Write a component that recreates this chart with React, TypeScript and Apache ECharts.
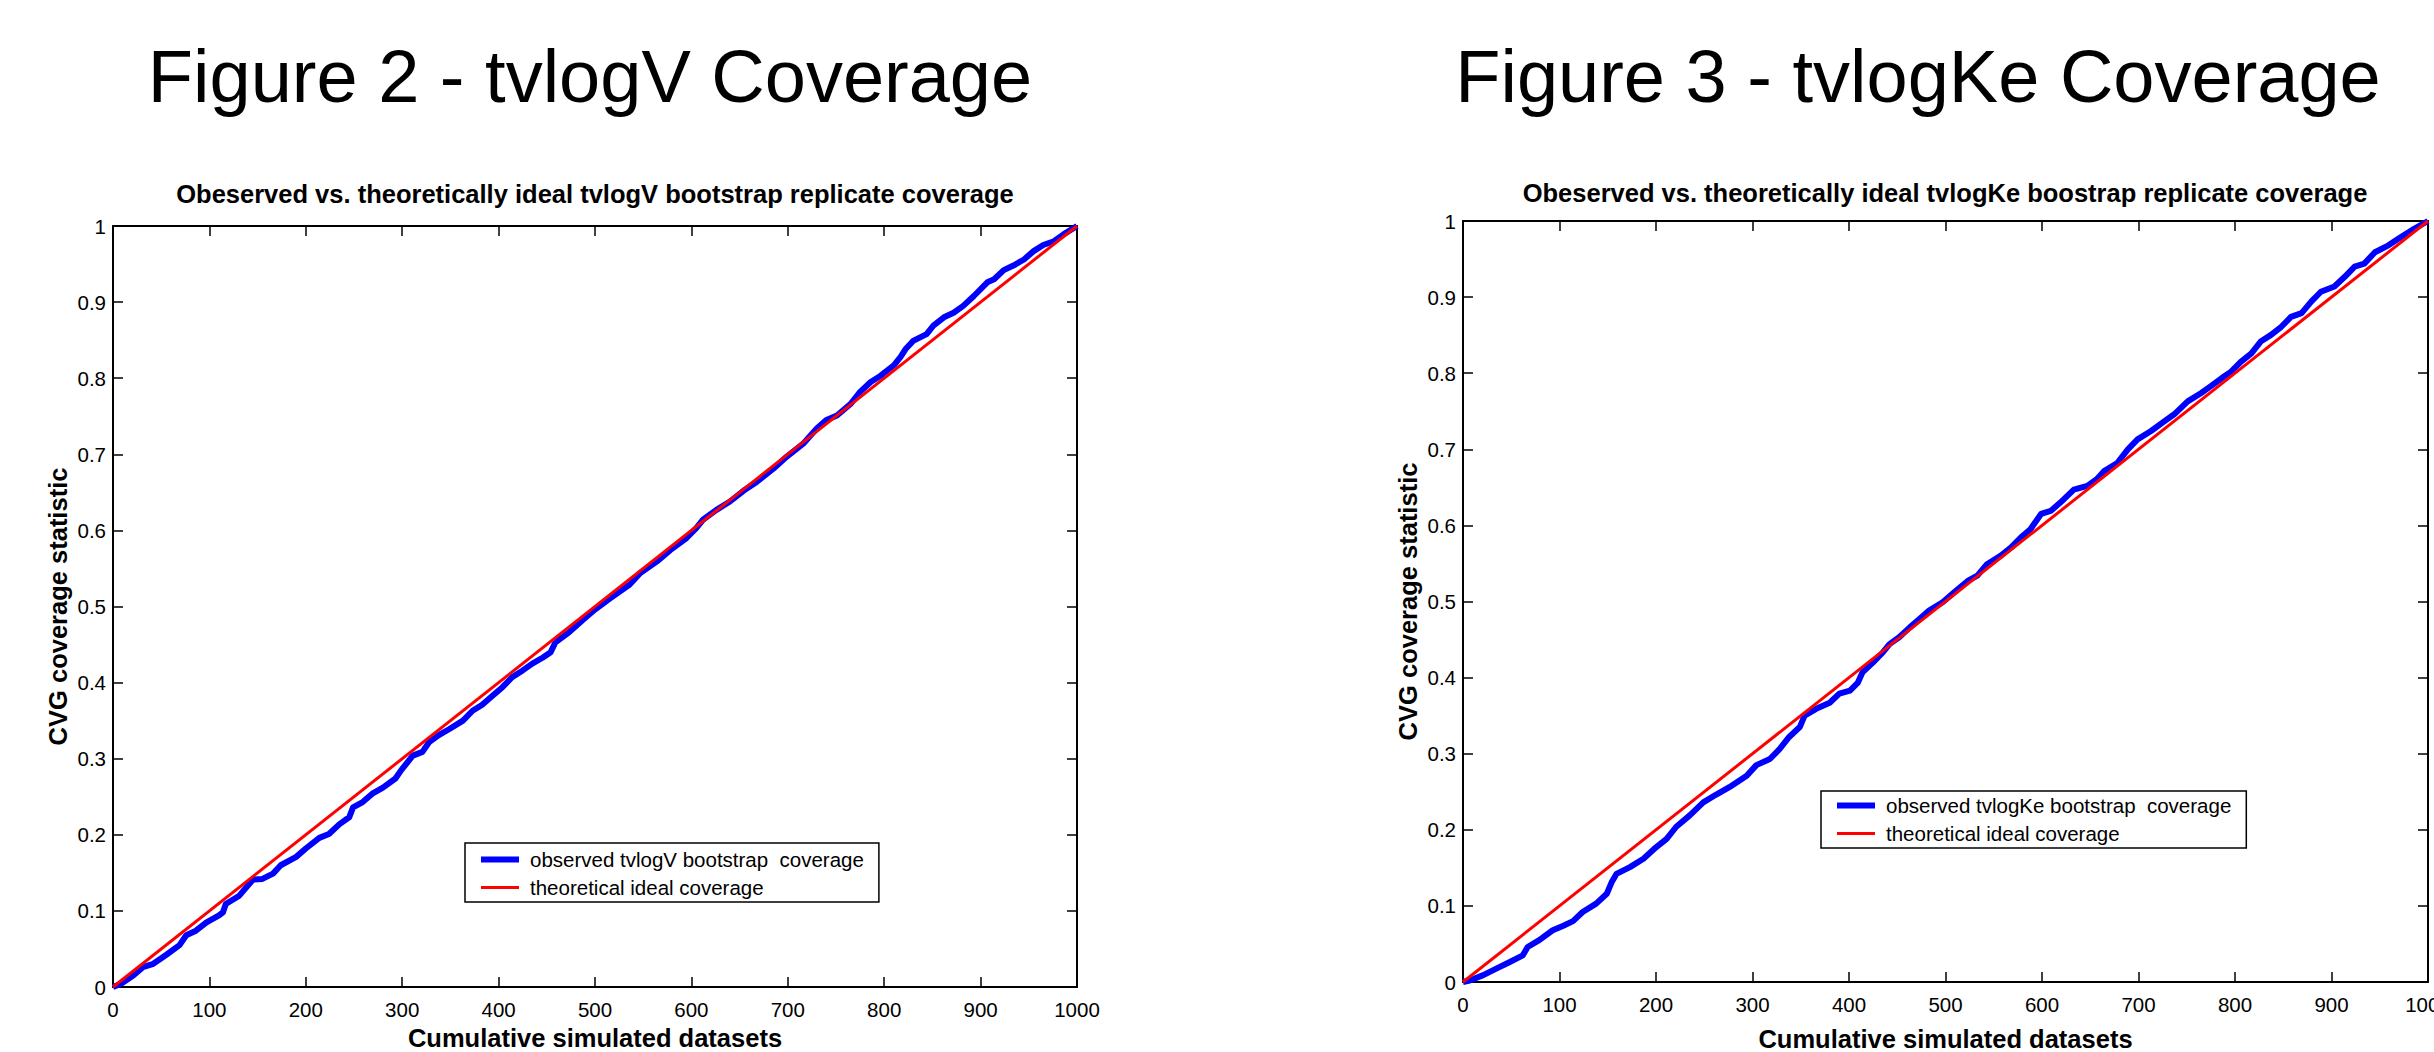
import React, { useEffect, useRef } from "react";
import * as echarts from "echarts";

// ---------- data ----------
const xTickValues = [0, 100, 200, 300, 400, 500, 600, 700, 800, 900, 1000];
const yTickValues = [0, 0.1, 0.2, 0.3, 0.4, 0.5, 0.6, 0.7, 0.8, 0.9, 1];

const idealX = [0, 1000];
const idealY = [0, 1];

const tvlogVX = [
  0, 8, 21, 31, 41, 55, 69, 76, 86, 97, 110, 114, 117, 131, 145, 155, 166, 174, 190, 200,
  214, 224, 235, 245, 249, 259, 269, 280, 293, 299, 311, 321, 328, 338, 349, 363, 373, 383, 394, 404,
  414, 425, 435, 446, 454, 459, 473, 487, 500, 516, 536, 547, 564, 578, 595, 605, 612, 626, 640, 654,
  668, 685, 699, 716, 730, 740, 751, 765, 775, 786, 796, 810, 817, 822, 830, 844, 851, 862, 872, 882,
  893, 907, 914, 924, 934, 945, 955, 965, 976, 986, 1000,
];
const tvlogVY = [
  0, 0.004, 0.015, 0.026, 0.03, 0.042, 0.055, 0.068, 0.074, 0.085, 0.094, 0.098, 0.109, 0.12, 0.141, 0.142, 0.149, 0.16, 0.171, 0.182,
  0.196, 0.201, 0.214, 0.223, 0.236, 0.243, 0.254, 0.262, 0.274, 0.285, 0.304, 0.309, 0.322, 0.331, 0.339, 0.35, 0.363, 0.371, 0.383, 0.394,
  0.407, 0.416, 0.425, 0.433, 0.44, 0.453, 0.466, 0.482, 0.496, 0.511, 0.529, 0.544, 0.559, 0.574, 0.59, 0.603, 0.614, 0.627, 0.638, 0.652,
  0.664, 0.681, 0.697, 0.714, 0.734, 0.745, 0.751, 0.766, 0.782, 0.795, 0.803, 0.817, 0.828, 0.838, 0.849, 0.858, 0.869, 0.88, 0.886, 0.895,
  0.908, 0.926, 0.93, 0.942, 0.948, 0.956, 0.967, 0.975, 0.98, 0.989, 1.0,
];

const tvlogKeX = [
  0, 7, 21, 35, 48, 62, 67, 79, 93, 104, 114, 124, 138, 149, 154, 159, 173, 187, 200, 211,
  221, 235, 249, 262, 276, 294, 304, 318, 328, 338, 349, 354, 366, 380, 390, 401, 409, 414, 425, 435,
  442, 452, 463, 473, 483, 497, 509, 523, 533, 543, 557, 568, 578, 588, 599, 609, 619, 633, 647, 657,
  664, 678, 689, 699, 713, 727, 737, 751, 765, 775, 789, 796, 806, 817, 827, 837, 848, 858, 869, 879,
  889, 903, 914, 924, 934, 945, 959, 972, 986, 1000,
];
const tvlogKeY = [
  0, 0.002, 0.009, 0.018, 0.026, 0.035, 0.046, 0.055, 0.068, 0.074, 0.08, 0.092, 0.103, 0.116, 0.131, 0.142, 0.151, 0.162, 0.177, 0.188,
  0.204, 0.219, 0.236, 0.246, 0.256, 0.271, 0.285, 0.293, 0.306, 0.322, 0.335, 0.35, 0.359, 0.367, 0.379, 0.383, 0.393, 0.407, 0.42, 0.433,
  0.444, 0.453, 0.466, 0.477, 0.488, 0.499, 0.512, 0.527, 0.534, 0.549, 0.56, 0.571, 0.584, 0.595, 0.615, 0.619, 0.63, 0.647, 0.652, 0.661,
  0.671, 0.682, 0.7, 0.713, 0.724, 0.737, 0.746, 0.763, 0.774, 0.783, 0.796, 0.802, 0.815, 0.826, 0.842, 0.85, 0.861, 0.874, 0.879, 0.894,
  0.907, 0.914, 0.927, 0.94, 0.944, 0.959, 0.968, 0.979, 0.99, 1.0,
];

const figTitles = ["Figure 2 - tvlogV Coverage", "Figure 3 - tvlogKe Coverage"];
const plotTitles = [
  "Obeserved vs. theoretically ideal tvlogV bootstrap replicate coverage",
  "Obeserved vs. theoretically ideal tvlogKe boostrap replicate coverage",
];
const obsNames = ["observed tvlogV bootstrap  coverage", "observed tvlogKe bootstrap  coverage"];
const idealName = "theoretical ideal coverage";
const xAxisName = "Cumulative simulated datasets";
const yAxisName = "CVG coverage statistic";

// ---------- styling ----------
const FONT = "'Liberation Sans', Arial, Helvetica, sans-serif";
const W = 2434;
const H = 1052;

const zip = (xs: number[], ys: number[]) => xs.map((x, i) => [x, ys[i]]);
const plain = (v: number) => String(Math.round(v * 1000) / 1000);

const axisLine = { show: true, onZero: false, lineStyle: { color: "#000", width: 2 } };
const axisTick = { show: true, inside: true, length: 10, lineStyle: { color: "#000", width: 1.5 } };

const xMin = xTickValues[0];
const xMax = xTickValues[xTickValues.length - 1];
const xInt = xTickValues[1] - xTickValues[0];
const yMin = yTickValues[0];
const yMax = yTickValues[yTickValues.length - 1];
const yInt = 0.1;

function xAxes(g: number, nameGap: number, labelMargin: number) {
  const base = {
    type: "value",
    gridIndex: g,
    min: xMin,
    max: xMax,
    interval: xInt,
    axisLine,
    axisTick,
    splitLine: { show: false },
  };
  return [
    {
      ...base,
      position: "bottom",
      axisLabel: { color: "#000", fontSize: 20.5, fontFamily: FONT, margin: labelMargin, formatter: plain },
      name: xAxisName,
      nameLocation: "middle",
      nameGap,
      nameTextStyle: { fontSize: 25.5, lineHeight: 20, fontWeight: "bold", color: "#000", fontFamily: FONT },
    },
    { ...base, position: "top", axisLabel: { show: false } },
  ];
}

function yAxes(g: number) {
  const base = {
    type: "value",
    gridIndex: g,
    min: yMin,
    max: yMax,
    interval: yInt,
    axisLine,
    axisTick,
    splitLine: { show: false },
  };
  return [
    {
      ...base,
      position: "left",
      axisLabel: { color: "#000", fontSize: 20.5, fontFamily: FONT, margin: 7, formatter: plain },
      name: yAxisName,
      nameLocation: "middle",
      nameRotate: 90,
      nameGap: 42,
      nameTextStyle: { fontSize: 25.5, fontWeight: "bold", color: "#000", fontFamily: FONT },
    },
    { ...base, position: "right", axisLabel: { show: false } },
  ];
}

function legendFor(i: number, left: number, top: number, padding: number[]) {
  return {
    left,
    top,
    orient: "vertical",
    data: [obsNames[i], idealName],
    selectedMode: false,
    borderColor: "#000",
    borderWidth: 1.5,
    backgroundColor: "#fff",
    padding,
    itemWidth: 38,
    itemHeight: 21,
    itemGap: 7,
    lineStyle: { width: "inherit" },
    itemStyle: { color: "transparent", borderWidth: 0, opacity: 0 },
    textStyle: { fontSize: 20.5, color: "#000", fontFamily: FONT, padding: [0, 0, 0, 6] },
  };
}

function seriesFor(i: number, xs: number[], ys: number[]) {
  return [
    {
      type: "line",
      name: obsNames[i],
      xAxisIndex: i * 2,
      yAxisIndex: i * 2,
      data: zip(xs, ys),
      symbol: "none",
      lineStyle: { color: "#0000ff", width: 6, join: "round", cap: "butt" },
      itemStyle: { color: "#0000ff" },
      z: 2,
    },
    {
      type: "line",
      name: idealName,
      xAxisIndex: i * 2,
      yAxisIndex: i * 2,
      data: zip(idealX, idealY),
      symbol: "none",
      lineStyle: { color: "#ff0000", width: 3 },
      itemStyle: { color: "#ff0000" },
      z: 3,
    },
  ];
}

function textEl(text: string, x: number, y: number, size: number, weight: string) {
  return {
    type: "text",
    x,
    y,
    silent: true,
    style: {
      text,
      fill: "#000",
      font: `${weight} ${size}px ${FONT}`,
      textAlign: "center",
      textVerticalAlign: "middle",
      align: "center",
      verticalAlign: "middle",
    },
  };
}

export default function App() {
  const ref = useRef<HTMLDivElement>(null);

  useEffect(() => {
    if (!ref.current) return;
    const chart = echarts.init(ref.current, undefined, { renderer: "svg", width: W, height: H });
    chart.setOption({
      animation: false,
      backgroundColor: "#fff",
      grid: [
        { left: 113, top: 226, width: 964, height: 761, containLabel: false, outerBoundsMode: "none" },
        { left: 1463, top: 221, width: 965, height: 761, containLabel: false, outerBoundsMode: "none" },
      ],
      xAxis: [...xAxes(0, 37, 12), ...xAxes(1, 47, 12)],
      yAxis: [...yAxes(0), ...yAxes(1)],
      legend: [
        legendFor(0, 465, 843, [6, 15, 4, 13]),
        legendFor(1, 1821, 791, [4, 15, 4, 13]),
      ],
      series: [...seriesFor(0, tvlogVX, tvlogVY), ...seriesFor(1, tvlogKeX, tvlogKeY)],
      graphic: [
        textEl(figTitles[0], 590, 76, 74, "normal"),
        textEl(figTitles[1], 1918, 76, 74, "normal"),
        textEl(plotTitles[0], 595, 194, 25.5, "bold"),
        textEl(plotTitles[1], 1945, 193, 25.5, "bold"),
      ],
    });
    return () => chart.dispose();
  }, []);

  return (
    <div
      ref={ref}
      style={{ position: "fixed", left: 0, top: 0, width: W, height: H, background: "#fff" }}
    />
  );
}
